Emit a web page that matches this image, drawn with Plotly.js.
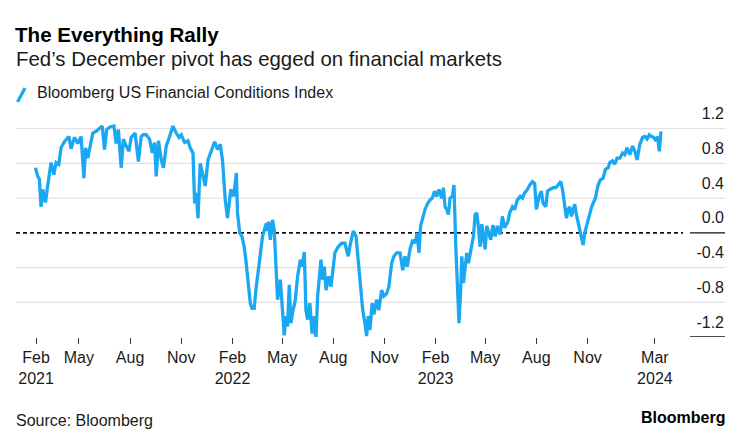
<!DOCTYPE html>
<html>
<head>
<meta charset="utf-8">
<script src="https://cdn.plot.ly/plotly-3.0.1.min.js"></script>
<style>
html,body{margin:0;padding:0;background:#fff;}
#chart{width:739px;height:441px;}
</style>
</head>
<body>
<div id="chart"></div>
<script>
// ---- data ----
const seriesName = "Bloomberg US Financial Conditions Index";
const dates = [
'2021-02-12','2021-02-16','2021-02-19','2021-02-22','2021-02-25','2021-03-02','2021-03-05','2021-03-09','2021-03-12','2021-03-17',
'2021-03-21','2021-03-26','2021-03-30','2021-04-05','2021-04-13','2021-04-17','2021-04-23','2021-04-29','2021-05-05','2021-05-10',
'2021-05-13','2021-05-17','2021-05-21','2021-05-26','2021-06-01','2021-06-07','2021-06-12','2021-06-16','2021-06-20','2021-06-26',
'2021-07-03','2021-07-07','2021-07-11','2021-07-16','2021-07-20','2021-07-25','2021-07-30','2021-08-03','2021-08-10','2021-08-16',
'2021-08-21','2021-08-25','2021-08-30','2021-09-05','2021-09-10','2021-09-14','2021-09-17','2021-09-21','2021-09-26','2021-09-30',
'2021-10-05','2021-10-11','2021-10-17','2021-10-23','2021-10-28','2021-11-01','2021-11-07','2021-11-13','2021-11-17','2021-11-22',
'2021-11-25','2021-11-28','2021-12-01','2021-12-05','2021-12-10','2021-12-14','2021-12-19','2021-12-25','2021-12-31','2022-01-05',
'2022-01-10','2022-01-14','2022-01-19','2022-01-23','2022-01-29','2022-02-03','2022-02-08','2022-02-10','2022-02-14','2022-02-18',
'2022-02-22','2022-02-25','2022-03-01','2022-03-05','2022-03-08','2022-03-12','2022-03-15','2022-03-20','2022-03-24','2022-03-27',
'2022-03-31','2022-04-03','2022-04-05','2022-04-07','2022-04-10','2022-04-14','2022-04-17','2022-04-20','2022-04-23','2022-04-28',
'2022-05-01','2022-05-05','2022-05-08','2022-05-11','2022-05-14','2022-05-17','2022-05-20','2022-05-25','2022-05-29','2022-06-03',
'2022-06-06','2022-06-10','2022-06-13','2022-06-16','2022-06-20','2022-06-24','2022-06-27','2022-07-01','2022-07-04','2022-07-07',
'2022-07-10','2022-07-13','2022-07-16','2022-07-19','2022-07-24','2022-07-28','2022-08-04','2022-08-10','2022-08-16','2022-08-22',
'2022-08-28','2022-09-01','2022-09-06','2022-09-11','2022-09-15','2022-09-19','2022-09-23','2022-09-27','2022-09-30','2022-10-03',
'2022-10-06','2022-10-10','2022-10-13','2022-10-18','2022-10-22','2022-10-27','2022-10-31','2022-11-05','2022-11-09','2022-11-14',
'2022-11-18','2022-11-23','2022-11-29','2022-12-04','2022-12-08','2022-12-12','2022-12-17','2022-12-22','2022-12-26','2022-12-30',
'2023-01-02','2023-01-05','2023-01-09','2023-01-13','2023-01-17','2023-01-22','2023-01-26','2023-01-30','2023-02-03','2023-02-07',
'2023-02-12','2023-02-15','2023-02-18','2023-02-21','2023-02-24','2023-02-27','2023-03-03','2023-03-06','2023-03-09','2023-03-12',
'2023-03-15','2023-03-18','2023-03-20','2023-03-23','2023-03-26','2023-03-29','2023-04-01','2023-04-05','2023-04-10','2023-04-13',
'2023-04-16','2023-04-19','2023-04-22','2023-04-25','2023-04-28','2023-05-01','2023-05-04','2023-05-08','2023-05-11','2023-05-15',
'2023-05-19','2023-05-23','2023-05-28','2023-06-01','2023-06-05','2023-06-11','2023-06-14','2023-06-19','2023-06-23','2023-06-28',
'2023-07-03','2023-07-07','2023-07-11','2023-07-16','2023-07-20','2023-07-25','2023-07-29','2023-08-01','2023-08-06','2023-08-10',
'2023-08-13','2023-08-18','2023-08-21','2023-08-25','2023-08-31','2023-09-05','2023-09-09','2023-09-14','2023-09-17','2023-09-21',
'2023-09-24','2023-09-27','2023-09-30','2023-10-03','2023-10-06','2023-10-09','2023-10-12','2023-10-15','2023-10-18','2023-10-21',
'2023-10-24','2023-10-27','2023-10-30','2023-11-02','2023-11-05','2023-11-08','2023-11-11','2023-11-15','2023-11-20','2023-11-24',
'2023-11-29','2023-12-03','2023-12-08','2023-12-11','2023-12-16','2023-12-20','2023-12-24','2023-12-29','2024-01-03','2024-01-07',
'2024-01-11','2024-01-16','2024-01-21','2024-01-25','2024-01-29','2024-02-03','2024-02-08','2024-02-12','2024-02-16','2024-02-20',
'2024-02-24','2024-02-28','2024-03-03','2024-03-06','2024-03-09','2024-03-12'
];
const values = [
0.75,0.65,0.62,0.30,0.50,0.35,0.50,0.65,0.81,0.67,
0.81,0.79,0.98,1.05,1.11,0.97,1.10,1.03,1.11,0.63,
0.98,0.86,1.00,1.15,1.17,1.21,1.23,0.96,1.19,1.22,
1.23,1.03,1.19,0.75,1.08,1.00,0.94,1.10,1.15,0.82,
1.11,1.13,1.13,1.08,0.92,1.04,0.65,1.06,0.84,0.75,
1.00,1.11,1.23,1.15,1.10,1.13,1.04,1.06,0.98,0.92,
0.34,0.46,0.17,0.80,0.65,0.54,0.84,0.94,1.05,0.96,
1.02,0.84,0.38,0.17,0.50,0.42,0.69,0.23,0.00,-0.04,
-0.16,-0.31,-0.54,-0.81,-0.87,-0.87,-0.66,-0.39,-0.16,-0.04,
0.05,0.11,0.02,0.13,-0.08,0.15,0.04,-0.39,-0.77,-0.54,
-0.77,-1.18,-0.96,-1.08,-0.60,-1.04,-0.92,-0.77,-0.50,-0.31,
-0.39,-0.22,-0.89,-1.00,-0.81,-1.16,-0.96,-1.22,-0.73,-0.50,
-0.31,-0.54,-0.39,-0.66,-0.50,-0.62,-0.23,-0.16,-0.12,-0.12,
-0.27,-0.12,0.02,-0.04,-0.31,-0.58,-0.89,-1.04,-1.19,-0.96,
-1.12,-0.81,-0.94,-0.77,-0.89,-0.66,-0.73,-0.70,-0.62,-0.35,
-0.27,-0.23,-0.23,-0.43,-0.27,-0.39,-0.19,-0.08,-0.12,0.00,
-0.23,0.08,0.19,0.27,0.33,0.38,0.40,0.48,0.42,0.50,
0.40,0.52,0.30,0.27,0.21,0.40,0.42,0.55,-0.12,-0.70,
-1.04,-0.66,-0.27,-0.58,-0.39,-0.23,-0.35,-0.19,-0.04,0.21,
0.23,0.06,-0.16,0.10,-0.04,-0.19,0.08,0.00,-0.08,0.09,
-0.04,0.08,-0.02,0.19,0.06,0.13,0.23,0.30,0.27,0.38,
0.42,0.40,0.46,0.50,0.55,0.59,0.57,0.27,0.42,0.48,
0.34,0.30,0.48,0.50,0.52,0.52,0.55,0.59,0.50,0.30,
0.17,0.27,0.30,0.19,0.27,0.33,0.21,0.11,0.06,-0.04,
-0.14,0.00,0.08,0.15,0.23,0.29,0.34,0.40,0.55,0.61,
0.63,0.73,0.75,0.81,0.83,0.79,0.86,0.86,0.92,0.90,
0.98,0.90,1.00,0.94,0.84,1.02,1.10,1.11,1.08,1.13,
1.11,1.10,1.06,1.11,0.94,1.17
];
const xTickDates = ['2021-02-13','2021-05-01','2021-08-01','2021-11-01','2022-02-01','2022-05-01','2022-08-01','2022-11-01','2023-02-01','2023-05-01','2023-08-01','2023-11-01','2024-03-01'];
const xTickLabels = ['Feb<br>2021','May','Aug','Nov','Feb<br>2022','May','Aug','Nov','Feb<br>2023','May','Aug','Nov','Mar<br>2024'];
const yTickVals = [1.2,0.8,0.4,0.0,-0.4,-0.8,-1.2];
const yTickLabels = ['1.2','0.8','0.4','0.0','-0.4','-0.8','-1.2'];
const gridVals = [1.2,0.8,0.4,-0.4,-0.8];
const baseVals = [0.0,-1.2];

// ---- styling ----
const BLUE = '#1BA8F2';
const FONT = 'Liberation Sans, Arial, Helvetica, sans-serif';
const TXT = '#1a1a1a';

const shapes = [];
gridVals.forEach(v => shapes.push({type:'line', xref:'paper', yref:'y', x0:0, x1:1, y0:v, y1:v, layer:'below', line:{color:'#dcdcdc', width:1}}));
shapes.push({type:'line', xref:'paper', yref:'y', x0:0, x1:0.9408, y0:0, y1:0, layer:'below', line:{color:'#111', width:1.6, dash:'4px,3px'}});
baseVals.forEach(v => shapes.push({type:'line', xref:'paper', yref:'y', x0:0.9506, x1:1, y0:v, y1:v, layer:'below', line:{color:'#111', width:1.4}}));
// legend swatch (slash)
shapes.push({type:'line', xref:'paper', yref:'paper', x0:0.0021, x1:0.0127, y0:1.0217, y1:1.0826, line:{color:BLUE, width:3.2}});

const annotations = [
  {xref:'paper', yref:'paper', x:-0.003, y:1.2087, xanchor:'left', yanchor:'middle', showarrow:false,
   text:'Fed’s December pivot has egged on financial markets', font:{family:FONT, size:20.4, color:TXT}},
  {xref:'paper', yref:'paper', x:0.0275, y:1.0609, xanchor:'left', yanchor:'middle', showarrow:false,
   text:seriesName, font:{family:FONT, size:16, color:TXT}},
  {xref:'paper', yref:'paper', x:-0.003, y:-0.3609, xanchor:'left', yanchor:'middle', showarrow:false,
   text:'Source: Bloomberg', font:{family:FONT, size:16, color:TXT}},
  {xref:'paper', yref:'paper', x:1.003, y:-0.35, xanchor:'right', yanchor:'middle', showarrow:false,
   text:'<b>Bloomberg</b>', font:{family:FONT, size:16, color:'#000'}}
];

const trace = {
  type:'scatter', mode:'lines', x:dates, y:values, name:seriesName,
  line:{color:BLUE, width:3.3, shape:'linear'}, showlegend:false, hoverinfo:'skip'
};

const layout = {
  width:739, height:441,
  margin:{l:16, r:14, t:107, b:104, pad:0},
  paper_bgcolor:'#fff', plot_bgcolor:'#fff',
  showlegend:false,
  title:{text:'<b>The Everything Rally</b>', font:{family:FONT, size:20.6, color:'#000'},
         xref:'container', yref:'container', x:15/739, xanchor:'left', y:1-35/441, yanchor:'middle'},
  xaxis:{type:'date', range:['2021-01-08','2024-07-05'], showgrid:false, zeroline:false, showline:false,
         tickmode:'array', tickvals:xTickDates, ticktext:xTickLabels,
         ticks:'outside', ticklen:6, tickwidth:1, tickcolor:'#333',
         tickfont:{family:FONT, size:16, color:TXT}, fixedrange:true},
  yaxis:{range:[-1.2,1.45], side:'right', showgrid:false, zeroline:false, showline:false,
         tickmode:'array', tickvals:yTickVals, ticktext:yTickLabels, ticks:'',
         ticklabelposition:'inside', ticklabelshift:-15, ticklabelstandoff:-2, ticklabeloverflow:'allow',
         tickfont:{family:FONT, size:16, color:TXT}, fixedrange:true},
  shapes:shapes, annotations:annotations
};

Plotly.newPlot('chart', [trace], layout, {staticPlot:true, displayModeBar:false});
</script>
</body>
</html>
